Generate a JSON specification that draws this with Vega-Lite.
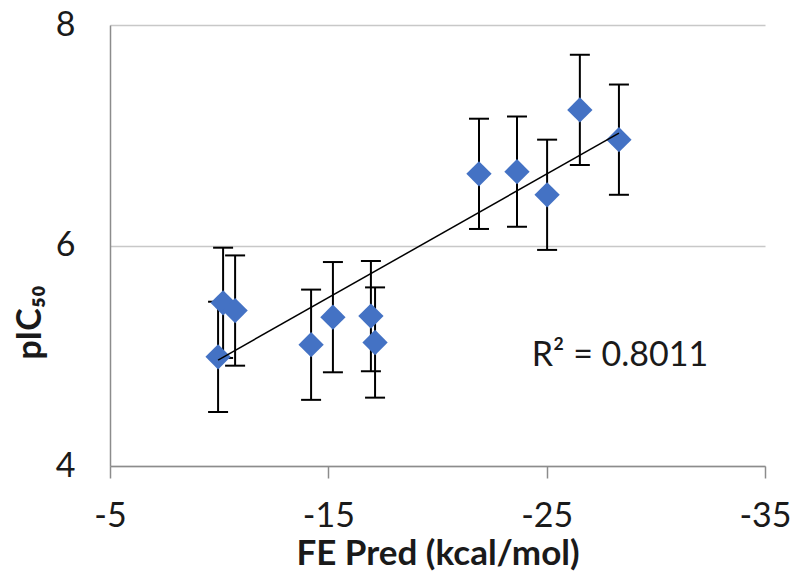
{
  "$schema": "https://vega.github.io/schema/vega-lite/v6.json",
  "width": 655,
  "height": 441,
  "autosize": "none",
  "padding": {"left": 110, "top": 25, "right": 35, "bottom": 119},
  "background": "white",
  "config": {"view": {"stroke": null}, "font": "Lato"},
  "data": {
    "values": [
      {"FE": -9.95, "pIC50": 4.99, "lo": 4.49, "hi": 5.49},
      {"FE": -10.18, "pIC50": 5.48, "lo": 4.98, "hi": 5.98},
      {"FE": -10.73, "pIC50": 5.41, "lo": 4.91, "hi": 5.91},
      {"FE": -14.21, "pIC50": 5.10, "lo": 4.60, "hi": 5.60},
      {"FE": -15.21, "pIC50": 5.35, "lo": 4.85, "hi": 5.85},
      {"FE": -16.95, "pIC50": 5.36, "lo": 4.86, "hi": 5.86},
      {"FE": -17.14, "pIC50": 5.12, "lo": 4.62, "hi": 5.62},
      {"FE": -21.90, "pIC50": 6.65, "lo": 6.15, "hi": 7.15},
      {"FE": -23.64, "pIC50": 6.67, "lo": 6.17, "hi": 7.17},
      {"FE": -25.02, "pIC50": 6.46, "lo": 5.96, "hi": 6.96},
      {"FE": -26.52, "pIC50": 7.23, "lo": 6.73, "hi": 7.73},
      {"FE": -28.31, "pIC50": 6.96, "lo": 6.46, "hi": 7.46}
    ]
  },
  "layer": [
    {
      "mark": {"type": "rule", "color": "black", "strokeWidth": 2},
      "encoding": {
        "x": {"field": "FE", "type": "quantitative", "title": "FE Pred (kcal/mol)",
          "scale": {"domain": [-35, -5], "reverse": true, "nice": false, "zero": false},
          "axis": {"values": [-5, -15, -25, -35], "grid": false, "labelExpr": "datum.value + ''",
            "domainColor": "#8c8c8c", "domainWidth": 1.5, "tickColor": "#8c8c8c", "tickSize": 12, "tickWidth": 1.5,
            "labelFontSize": 34, "labelColor": "#1a1a1a", "labelPadding": 21, "labelFlush": false,
            "titleFontSize": 35, "titleFontWeight": "bold", "titleColor": "#1a1a1a", "titlePadding": 3}},
        "y": {"field": "lo", "type": "quantitative", "title": "pIC₅₀",
          "scale": {"domain": [4, 8], "nice": false, "zero": false},
          "axis": {"values": [4, 6, 8], "grid": true, "gridColor": "#c8c8c8", "gridWidth": 1.5, "labelExpr": "datum.value + ''",
            "domainColor": "#8c8c8c", "domainWidth": 1.5, "ticks": false, "labelPadding": 35,
            "labelFontSize": 34, "labelColor": "#1a1a1a", "labelFlush": false,
            "titleFontSize": 34, "titleFontWeight": "bold", "titleColor": "#1a1a1a",
            "titleX": -63, "titleY": 297, "titleAngle": -90, "titleBaseline": "bottom", "titleAlign": "center"}},
        "y2": {"field": "hi"}
      }
    },
    {
      "mark": {"type": "tick", "orient": "horizontal", "size": 20, "thickness": 2, "color": "black", "opacity": 1},
      "encoding": {
        "x": {"field": "FE", "type": "quantitative", "title": "FE Pred (kcal/mol)"},
        "y": {"field": "lo", "type": "quantitative", "title": "pIC₅₀"}
      }
    },
    {
      "mark": {"type": "tick", "orient": "horizontal", "size": 20, "thickness": 2, "color": "black", "opacity": 1},
      "encoding": {
        "x": {"field": "FE", "type": "quantitative", "title": "FE Pred (kcal/mol)"},
        "y": {"field": "hi", "type": "quantitative", "title": "pIC₅₀"}
      }
    },
    {
      "mark": {"type": "point", "shape": "diamond", "filled": true, "size": 640, "color": "#4472C4", "opacity": 1},
      "encoding": {
        "x": {"field": "FE", "type": "quantitative", "title": "FE Pred (kcal/mol)"},
        "y": {"field": "pIC50", "type": "quantitative", "title": "pIC₅₀"}
      }
    },
    {
      "transform": [{"regression": "pIC50", "on": "FE"}],
      "mark": {"type": "line", "color": "black", "strokeWidth": 1.5},
      "encoding": {
        "x": {"field": "FE", "type": "quantitative", "title": "FE Pred (kcal/mol)"},
        "y": {"field": "pIC50", "type": "quantitative", "title": "pIC₅₀"}
      }
    },
    {
      "data": {"values": [{"FE": -28.36, "pIC50": 5.0, "label": "R² = 0.8011"}]},
      "mark": {"type": "text", "fontSize": 34, "color": "#1a1a1a", "align": "center", "baseline": "middle"},
      "encoding": {
        "x": {"field": "FE", "type": "quantitative", "title": "FE Pred (kcal/mol)"},
        "y": {"field": "pIC50", "type": "quantitative", "title": "pIC₅₀"},
        "text": {"field": "label"}
      }
    }
  ]
}
